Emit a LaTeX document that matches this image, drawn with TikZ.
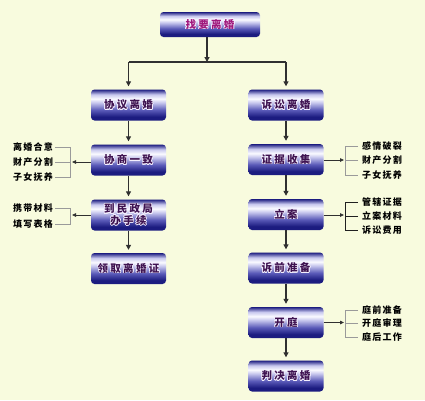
\documentclass[tikz,border=0pt]{standalone}
\usepackage{fontspec}
\usepackage{contour}
\contourlength{0.6pt}
\contournumber{16}
\newfontfamily\boxf[LetterSpace=22]{Noto Sans CJK SC}
\newfontfamily\labf[LetterSpace=14]{Noto Sans CJK SC}
\usetikzlibrary{arrows.meta,calc}
\definecolor{bgc}{HTML}{F8FBDE}
\definecolor{navy}{HTML}{1C1C80}
\definecolor{midb}{HTML}{5A5AB8}
\definecolor{lite}{HTML}{FAFAFF}
\definecolor{lav}{HTML}{C8C8EE}
\definecolor{txtc}{HTML}{3E1250}
\definecolor{toptxt}{HTML}{A0187C}
\definecolor{lnc}{HTML}{303030}
\definecolor{brkgray}{HTML}{9A9A9A}
\definecolor{brkdark}{HTML}{202020}
\definecolor{halo}{HTML}{F4F0FF}
\pgfdeclareverticalshading{boxshade}{100bp}{color(0bp)=(navy); color(25bp)=(navy); color(31bp)=(navy); color(42bp)=(midb); color(54bp)=(lav); color(60bp)=(lite); color(67bp)=(lav); color(75bp)=(navy); color(100bp)=(navy)}
\newcommand{\halotxt}[1]{\contour{halo}{#1}}
\begin{document}
\begin{tikzpicture}[x=1pt,y=-1pt,
  box/.style={rectangle, rounded corners=3.5pt, minimum width=75pt, minimum height=31pt,
    shading=boxshade, inner sep=0pt, align=center,
    text=txtc, font=\boxf\bfseries\fontsize{10.5}{12}\selectfont},
  labl/.style={anchor=east, inner sep=0pt, font=\labf\bfseries\fontsize{9}{10}\selectfont, text=black},
  labr/.style={anchor=west, inner sep=0pt, font=\labf\bfseries\fontsize{9}{10}\selectfont, text=black},
  flow/.style={draw=lnc, line width=1.2pt, -{Triangle[length=5pt,width=5pt]}},
  plain/.style={draw=lnc, line width=1.2pt},
  side/.style={draw=lnc, line width=0.8pt, -{Triangle[length=4pt,width=3.5pt]}},
  brk/.style={draw=brkgray, line width=1pt},
  brkd/.style={draw=brkdark, line width=1pt}]
\fill[bgc] (0,0) rectangle (425,400);
\useasboundingbox (0,0) rectangle (425,400);
% main boxes
\node[box, minimum width=100pt, minimum height=25pt, text=toptxt] (top) at (210,24.5) {\halotxt{找要离婚}};
\node[box] (xy) at (128.5,105) {\halotxt{协议离婚}};
\node[box] (ss) at (286,105) {\halotxt{诉讼离婚}};
\node[box] (xs) at (128.5,160) {\halotxt{协商一致}};
\node[box, font=\boxf\bfseries\fontsize{10.5}{11.5}\selectfont] (mz) at (128.5,215) {\halotxt{到民政局}\\\halotxt{办手续}};
\node[box] (lq) at (128.5,268.5) {\halotxt{领取离婚证}};
\node[box] (zj) at (286,159.5) {\halotxt{证据收集}};
\node[box] (la) at (286,214.5) {\halotxt{立案}};
\node[box] (sq) at (286,268) {\halotxt{诉前准备}};
\node[box] (kt) at (286,322.5) {\halotxt{开庭}};
\node[box] (pj) at (286,376) {\halotxt{判决离婚}};
% top split
\coordinate (split) at (207,62);
\draw[flow] (top.south -| split) -- (split);
\draw[plain] (xy.north |- split) -- (ss.north |- split);
\draw[flow, shorten >=3pt] (xy.north |- split) -- (xy.north);
\draw[flow, shorten >=3pt] (ss.north |- split) -- (ss.north);
% vertical chains
\draw[flow, shorten >=3pt] (xy) -- (xs);
\draw[flow, shorten >=3pt] (xs) -- (mz);
\draw[flow, shorten >=3pt] (mz) -- (lq);
\draw[flow, shorten >=3pt] (ss) -- (zj);
\draw[flow, shorten >=3pt] (zj) -- (la);
\draw[flow, shorten >=3pt] (la) -- (sq);
\draw[flow, shorten >=3pt] (sq) -- (kt);
\draw[flow, shorten >=3pt] (kt) -- (pj);
% left group 1
\node[labl] (l11) at (53,147) {离婚合意};
\node[labl] (l12) at (53,162) {财产分割};
\node[labl] (l13) at (53,177) {子女抚养};
\coordinate (bl1) at (70,162);
\draw[brk] ([xshift=2pt]l11.east) -- (l11.east -| bl1) -- (l13.east -| bl1) -- ([xshift=2pt]l13.east);
\draw[brk] ([xshift=2pt]l12.east) -- (l12.east -| bl1);
\draw[side, shorten >=2pt] (xs.west |- bl1) -- (bl1);
% left group 2
\node[labl] (l21) at (53,208) {携带材料};
\node[labl] (l22) at (53,224) {填写表格};
\coordinate (bl2) at (70,215);
\draw[brk] ([xshift=2pt]l21.east) -- (l21.east -| bl2) -- (l22.east -| bl2) -- ([xshift=2pt]l22.east);
\draw[side, shorten >=2pt] (mz.west |- bl2) -- (bl2);
% right group 1
\node[labr] (r11) at (362,146) {感情破裂};
\node[labr] (r12) at (362,160.5) {财产分割};
\node[labr] (r13) at (362,175) {子女抚养};
\coordinate (br1) at (345,160);
\draw[brk] ([xshift=-4pt]r11.west) -- (r11.west -| br1) -- (r13.west -| br1) -- ([xshift=-4pt]r13.west);
\draw[brk] ([xshift=-4pt]r12.west) -- (r12.west -| br1);
\draw[side, shorten >=1pt] (zj.east |- br1) -- (br1);
% right group 2
\node[labr] (r21) at (362,202) {管辖证据};
\node[labr] (r22) at (362,216) {立案材料};
\node[labr] (r23) at (362,230) {诉讼费用};
\coordinate (br2) at (345,215);
\draw[brkd] ([xshift=-4pt]r21.west) -- (r21.west -| br2) -- (r23.west -| br2) -- ([xshift=-4pt]r23.west);
\draw[brkd] ([xshift=-4pt]r22.west) -- (r22.west -| br2);
\draw[side, shorten >=1pt] (la.east |- br2) -- (br2);
% right group 3
\node[labr] (r31) at (362,310) {庭前准备};
\node[labr] (r32) at (362,323) {开庭审理};
\node[labr] (r33) at (362,337) {庭后工作};
\coordinate (br3) at (345,322.5);
\draw[brk] ([xshift=-4pt]r31.west) -- (r31.west -| br3) -- (r33.west -| br3) -- ([xshift=-4pt]r33.west);
\draw[brk] ([xshift=-4pt]r32.west) -- (r32.west -| br3);
\draw[side, shorten >=1pt] (kt.east |- br3) -- (br3);
\end{tikzpicture}
\end{document}
